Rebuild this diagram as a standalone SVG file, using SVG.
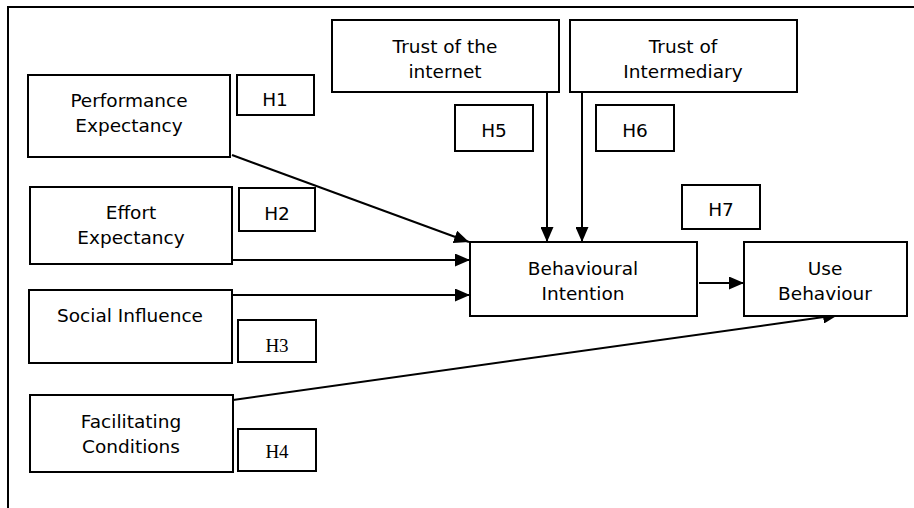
<svg xmlns="http://www.w3.org/2000/svg" width="914" height="508" viewBox="0 0 914 508">
<defs>
<marker id="arr" viewBox="0 0 15 13" refX="15" refY="6.5" markerWidth="15" markerHeight="13" markerUnits="userSpaceOnUse" orient="auto">
<path d="M0,0 L15,6.5 L0,13 Z" fill="#000"/>
</marker>
</defs>
<style>
.box{fill:#fff;stroke:#000;stroke-width:2}
.t{font-family:"DejaVu Sans",Verdana,sans-serif;font-size:18.5px;fill:#000;text-anchor:middle}
.s{font-family:"Liberation Serif","Times New Roman",serif;font-size:19px;fill:#000;text-anchor:middle}
.c{fill:none;stroke:#000;stroke-width:2}
</style>
<rect width="914" height="508" fill="#fff"/>
<path d="M8,508 V7 H914" fill="none" stroke="#000" stroke-width="2"/>
<g id="connectors">
<line class="c" x1="232" y1="155" x2="469" y2="242" marker-end="url(#arr)"/>
<line class="c" x1="233" y1="260" x2="470" y2="260" marker-end="url(#arr)"/>
<line class="c" x1="232" y1="295" x2="470" y2="295" marker-end="url(#arr)"/>
<line class="c" x1="233" y1="400" x2="838" y2="315" marker-end="url(#arr)"/>
<line class="c" x1="699" y1="283" x2="744" y2="283" marker-end="url(#arr)"/>
<line class="c" x1="547" y1="92" x2="547" y2="242" marker-end="url(#arr)"/>
<line class="c" x1="582" y1="92" x2="582" y2="242" marker-end="url(#arr)"/>
</g>
<g id="pe"><rect class="box" x="28" y="75" width="202" height="82"/><text class="t" x="129" y="107">Performance</text><text class="t" x="129" y="132">Expectancy</text></g>
<g id="h1"><rect class="box" x="237" y="75" width="77" height="40"/><text class="t" x="275" y="106">H1</text></g>
<g id="ee"><rect class="box" x="30" y="187" width="202" height="77"/><text class="t" x="131" y="219">Effort</text><text class="t" x="131" y="244">Expectancy</text></g>
<g id="h2"><rect class="box" x="239" y="188" width="76" height="43"/><text class="t" x="277" y="220">H2</text></g>
<g id="si"><rect class="box" x="29" y="290" width="203" height="73"/><text class="t" x="130" y="322">Social Influence</text></g>
<g id="h3"><rect class="box" x="238" y="320" width="78" height="42"/><text class="s" x="277" y="352">H3</text></g>
<g id="fc"><rect class="box" x="30" y="395" width="203" height="77"/><text class="t" x="131" y="428">Facilitating</text><text class="t" x="131" y="453">Conditions</text></g>
<g id="h4"><rect class="box" x="238" y="429" width="78" height="42"/><text class="s" x="277" y="458">H4</text></g>
<g id="ti"><rect class="box" x="332" y="20" width="227" height="72"/><text class="t" x="445" y="53">Trust of the</text><text class="t" x="445" y="78">internet</text></g>
<g id="tm"><rect class="box" x="570" y="20" width="227" height="72"/><text class="t" x="683" y="53">Trust of</text><text class="t" x="683" y="78">Intermediary</text></g>
<g id="h5"><rect class="box" x="455" y="105" width="78" height="46"/><text class="t" x="494" y="137">H5</text></g>
<g id="h6"><rect class="box" x="596" y="105" width="78" height="46"/><text class="t" x="635" y="137">H6</text></g>
<g id="h7"><rect class="box" x="682" y="185" width="78" height="44"/><text class="t" x="721" y="216">H7</text></g>
<g id="bi"><rect class="box" x="470" y="242" width="227" height="74"/><text class="t" x="583" y="275">Behavioural</text><text class="t" x="583" y="300">Intention</text></g>
<g id="ub"><rect class="box" x="744" y="242" width="163" height="74"/><text class="t" x="825" y="275">Use</text><text class="t" x="825" y="300">Behaviour</text></g>
</svg>
